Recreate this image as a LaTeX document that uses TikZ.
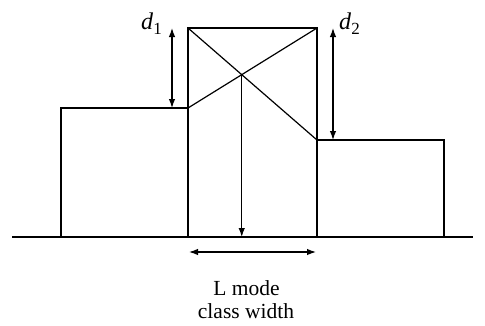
\documentclass[tikz,border=0pt]{standalone}
\usepackage{fontspec}
\setmainfont{Liberation Serif}
\usetikzlibrary{arrows.meta,intersections}
\newcommand{\dsym}[1]{\textit{d}\raisebox{-0.22em}{\fontsize{17}{17}\selectfont #1}}
\begin{document}
\begin{tikzpicture}[x=1pt,y=-1pt,
  bar/.style={line width=2.8pt,line join=miter},
  thin/.style={line width=1.2pt},
  dim/.style={line width=1.2pt,{Latex[length=9pt,width=6.5pt]}-{Latex[length=9pt,width=6.5pt]}},
  onearrow/.style={line width=1.2pt,-{Latex[length=9pt,width=6.5pt]}},
  lab/.style={font=\fontsize{24}{26}\selectfont,inner sep=0pt},
  txt/.style={font=\fontsize{21.5}{24}\selectfont,inner sep=0pt,anchor=base}]
\useasboundingbox (0,0) rectangle (485,325);
% base line
\coordinate (b0) at (12,237);
\coordinate (b1) at (473,237);
\draw[bar] (b0) -- (b1);
% coordinates of bars
\coordinate (L0) at (61,237);
\coordinate (Ltop) at (61,108);
\coordinate (M0) at (188,237);
\coordinate (Mlt) at (188,108);
\coordinate (Mtl) at (188,28);
\coordinate (Mtr) at (317,28);
\coordinate (Mrt) at (317,140);
\coordinate (M1) at (317,237);
\coordinate (Rtop) at (444,140);
\coordinate (R1) at (444,237);
% bars
\draw[bar] (L0) -- (Ltop) -- (Mlt);
\draw[bar] (M0) -- (Mtl) -- (Mtr) -- (M1);
\draw[bar] (Mrt) -- (Rtop) -- (R1);
% diagonals
\draw[thin,name path=da] (Mlt) -- (Mtr);
\draw[thin,name path=db] (Mtl) -- (Mrt);
\path[name intersections={of=da and db,by=X}];
\coordinate (Xb) at (X |- b0);
\draw[onearrow] (X) -- (Xb);
% d1, d2
\coordinate (d1t) at (172,28);
\coordinate (d1b) at (172,108);
\draw[dim] (d1t) -- (d1b);
\coordinate (d2t) at (333,28);
\coordinate (d2b) at (333,140);
\draw[dim] (d2t) -- (d2b);
\node[lab,anchor=base west] (l1) at (141,29) {\dsym{1}};
\node[lab,anchor=base west] (l2) at (339,29) {\dsym{2}};
% width arrow
\coordinate (w0) at (189,252);
\coordinate (w1) at (316,252);
\draw[dim] (w0) -- (w1);
\node[txt] (t1) at (246.5,295) {L mode};
\node[txt] (t2) at (246,318) {class width};
\end{tikzpicture}
\end{document}
